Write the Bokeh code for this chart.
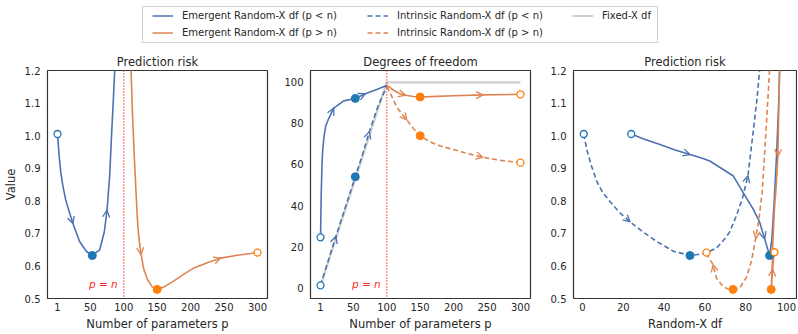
from bokeh.plotting import figure
from bokeh.models import (Range1d, FixedTicker, Span, Label, Arrow, OpenHead,
                          ColumnDataSource, Legend, LegendItem, Spacer)
from bokeh.layouts import column, row
from bokeh.embed import file_html
from bokeh.resources import INLINE

# ---------------- data ----------------
# Panel 1: prediction risk vs number of parameters p
p1_under_p = [1, 2, 4, 6, 9, 13, 17, 24, 34, 44, 53, 64, 71, 75, 79, 82, 84, 86.5, 88]
p1_under_risk = [1.005, 0.975, 0.925, 0.885, 0.846, 0.805, 0.776, 0.730, 0.675, 0.645,
                 0.632, 0.649, 0.705, 0.771, 0.877, 1.010, 1.090, 1.200, 1.270]
p1_over_p = [109, 111, 113, 116, 119, 121, 123, 126, 130, 136, 143, 150, 160, 175, 190,
             205, 225, 245, 270, 300]
p1_over_risk = [1.30, 1.20, 1.07, 0.927, 0.80, 0.725, 0.68, 0.635, 0.59, 0.556, 0.535,
                0.528, 0.535, 0.554, 0.575, 0.594, 0.61, 0.624, 0.633, 0.641]

# Panel 2: degrees of freedom vs p
p2_emer_under_p = [1, 2, 3, 4, 6, 8.5, 13.4, 20.8, 35.7, 53, 68, 85, 100]
p2_emer_under_df = [24.5, 45, 58, 66, 73, 78.5, 82.5, 87.5, 91, 92.2, 94.5, 96.5, 98.5]
p2_intr_under_p = [1, 12, 24, 38, 53, 63, 74, 87, 100]
p2_intr_under_df = [1.1, 12.5, 25, 39, 54, 64, 76, 88.5, 98]
p2_emer_over_p = [100, 105, 110, 115, 120, 128, 140, 150, 175, 200, 244, 300]
p2_emer_over_df = [98.5, 97.5, 96.3, 95.3, 94.5, 93.7, 93.1, 92.9, 93.2, 93.5, 93.9, 94.2]
p2_intr_over_p = [100, 105, 110, 115, 122, 130, 140, 150, 165, 180, 200, 222, 244, 270, 300]
p2_intr_over_df = [98, 95, 91.5, 88, 85, 81.7, 77.5, 74, 71, 69, 67.3, 65.2, 63.5, 62, 60.9]
fixed_p = [1, 100, 300]
fixed_df = [1, 100, 100]

# Panel 3: prediction risk vs Random-X df
p3_emer_under_df = [23.9, 30, 38, 45, 52.7, 58, 62.4, 68, 73.8, 78.7, 83.6, 86.8, 89.3,
                    91.7, 92.8, 94.0, 95.2, 96.3, 97.0]
p3_emer_under_risk = [1.005, 0.99, 0.973, 0.957, 0.942, 0.932, 0.922, 0.90, 0.877, 0.826,
                      0.775, 0.735, 0.683, 0.632, 0.68, 0.80, 0.95, 1.12, 1.3]
p3_intr_under_df = [0.65, 2, 4.5, 7.2, 10, 13.7, 18, 23.4, 30, 36.4, 44.6, 52.7, 60, 65.7,
                    70, 72.2, 75.5, 78.5, 81.1, 83.6, 85.5, 86.8, 87.5]
p3_intr_under_risk = [1.005, 0.96, 0.905, 0.857, 0.825, 0.796, 0.765, 0.735, 0.703, 0.675,
                      0.645, 0.632, 0.638, 0.655, 0.685, 0.705, 0.755, 0.81, 0.877, 1.008,
                      1.11, 1.2, 1.3]
p3_emer_over_df = [96.9, 96.6, 96.2, 95.8, 95.0, 94.1, 93.6, 93.3, 93.0, 92.7, 92.5, 92.9,
                   93.2, 93.6, 94.1]
p3_emer_over_risk = [1.3, 1.2, 1.07, 0.937, 0.85, 0.776, 0.71, 0.665, 0.604, 0.555, 0.528,
                     0.56, 0.59, 0.62, 0.642]
p3_intr_over_df = [92.3, 91.7, 90.1, 88.1, 86.5, 84.9, 82.8, 80.3, 77.1, 73.8, 71, 68.9,
                   65.7, 64, 61.6, 60.8]
p3_intr_over_risk = [1.3, 1.2, 1.03, 0.827, 0.745, 0.685, 0.614, 0.564, 0.533, 0.528, 0.53,
                     0.537, 0.562, 0.604, 0.628, 0.641]

# ticks
p_ticks = [1, 50, 100, 150, 200, 250, 300]
risk_ticks = [0.5, 0.6, 0.7, 0.8, 0.9, 1.0, 1.1, 1.2]
risk_tick_labels = ["0.5", "0.6", "0.7", "0.8", "0.9", "1.0", "1.1", "1.2"]
df_ticks = [0, 20, 40, 60, 80, 100]

legend_labels = ["Emergent Random-X df (p < n)", "Emergent Random-X df (p > n)",
                 "Intrinsic Random-X df (p < n)", "Intrinsic Random-X df (p > n)",
                 "Fixed-X df"]

# ---------------- styles ----------------
BLUE = "#4C72B0"
ORANGE = "#DD8452"
BLUE_DOT = "#1f77b4"
ORANGE_DOT = "#ff7f0e"
GRAY = "#cfcfcf"
RED = "#ff2a2a"
FONT = "'DejaVu Sans'"
TXT = "#262626"
DASH = "5 3"


def make_panel(title, xr, yr, xticks, yticks, xlabel, ylabel, width, left, right):
    p = figure(width=width, height=290, x_range=Range1d(*xr), y_range=Range1d(*yr),
               title=title, output_backend="svg", toolbar_location=None,
               min_border_left=left, min_border_right=right,
               min_border_top=27, min_border_bottom=32)
    p.grid.visible = False
    p.outline_line_color = "#333333"
    p.outline_line_width = 1.2
    p.background_fill_color = "white"
    p.border_fill_color = "white"
    p.title.text_font = FONT
    p.title.text_font_size = "11.5px"
    p.title.text_font_style = "normal"
    p.title.text_color = TXT
    p.title.align = "center"
    p.title.standoff = 3
    p.xaxis.ticker = FixedTicker(ticks=xticks)
    p.yaxis.ticker = FixedTicker(ticks=yticks)
    for ax in (p.xaxis[0], p.yaxis[0]):
        ax.major_tick_line_color = None
        ax.minor_tick_line_color = None
        ax.major_tick_out = 0
        ax.major_tick_in = 0
        ax.minor_tick_out = 0
        ax.minor_tick_in = 0
        ax.axis_line_color = None
        ax.major_label_text_font = FONT
        ax.major_label_text_font_size = "10px"
        ax.major_label_text_color = TXT
        ax.axis_label_text_font = FONT
        ax.axis_label_text_font_size = "11.5px"
        ax.axis_label_text_font_style = "normal"
        ax.axis_label_text_color = TXT
    p.xaxis.major_label_standoff = 4
    p.xaxis.axis_label_standoff = 3
    p.yaxis.major_label_standoff = 7
    p.yaxis.axis_label_standoff = 4
    p.xaxis.axis_label = xlabel
    if ylabel:
        p.yaxis.axis_label = ylabel
    return p


def curve(p, xs, ys, color, dash, arrows):
    p.line(xs, ys, line_color=color, line_width=1.6, line_dash=dash)
    src = ColumnDataSource(dict(
        x0=[xs[i - 1] for i in arrows], y0=[ys[i - 1] for i in arrows],
        x1=[xs[i] for i in arrows], y1=[ys[i] for i in arrows]))
    p.add_layout(Arrow(end=OpenHead(size=7, line_color=color, line_width=1.3),
                       x_start="x0", y_start="y0", x_end="x1", y_end="y1",
                       source=src, line_alpha=0))


def marks(p, xs, ys, open_idx, dot_idx, color):
    p.scatter([xs[dot_idx]], [ys[dot_idx]], size=8, marker="circle",
              fill_color=color, line_color=color)
    p.scatter([xs[open_idx]], [ys[open_idx]], size=7, marker="circle",
              fill_color="white", line_color=color, line_width=1.3)


def pn_marker(p, y):
    p.add_layout(Span(location=100, dimension="height", line_color=RED,
                      line_dash="1 2", line_width=1.6, line_alpha=0.95))
    p.add_layout(Label(x=100, y=y, x_offset=-6, text="p = n", text_align="right",
                       text_baseline="middle", text_color=RED, text_font=FONT,
                       text_font_size="10.5px", text_font_style="italic"))


# ---------------- panel 1 ----------------
p1 = make_panel("Prediction risk", (-14, 315), (0.5, 1.2), p_ticks, risk_ticks,
                "Number of parameters p", "Value", 270, 46, 3)
p1.yaxis.major_label_overrides = dict(zip(risk_ticks, risk_tick_labels))
pn_marker(p1, 0.545)
curve(p1, p1_under_p, p1_under_risk, BLUE, "solid", [7, 13])
curve(p1, p1_over_p, p1_over_risk, ORANGE, "solid", [7, 17])
marks(p1, p1_under_p, p1_under_risk, 0, 10, BLUE_DOT)
marks(p1, p1_over_p, p1_over_risk, len(p1_over_p) - 1, 11, ORANGE_DOT)

# ---------------- panel 2 ----------------
p2 = make_panel("Degrees of freedom", (-14, 315), (-5.3, 105.8), p_ticks, df_ticks,
                "Number of parameters p", None, 263, 40, 3)
pn_marker(p2, 1.9)
p2.line(fixed_p, fixed_df, line_color=GRAY, line_width=2.2)
curve(p2, p2_emer_under_p, p2_emer_under_df, BLUE, "solid", [7, 10])
curve(p2, p2_intr_under_p, p2_intr_under_df, BLUE, DASH, [2, 6])
curve(p2, p2_emer_over_p, p2_emer_over_df, ORANGE, "solid", [5, 10])
curve(p2, p2_intr_over_p, p2_intr_over_df, ORANGE, DASH, [5, 12])
marks(p2, p2_emer_under_p, p2_emer_under_df, 0, 9, BLUE_DOT)
marks(p2, p2_intr_under_p, p2_intr_under_df, 0, 4, BLUE_DOT)
marks(p2, p2_emer_over_p, p2_emer_over_df, len(p2_emer_over_p) - 1, 7, ORANGE_DOT)
marks(p2, p2_intr_over_p, p2_intr_over_df, len(p2_intr_over_p) - 1, 7, ORANGE_DOT)

# ---------------- panel 3 ----------------
p3 = make_panel("Prediction risk", (-4.4, 104.9), (0.5, 1.2), df_ticks, risk_ticks,
                "Random-X df", None, 264, 40, 1)
p3.yaxis.major_label_overrides = dict(zip(risk_ticks, risk_tick_labels))
curve(p3, p3_emer_under_df, p3_emer_under_risk, BLUE, "solid", [4, 12])
curve(p3, p3_intr_under_df, p3_intr_under_risk, BLUE, DASH, [7, 18])
curve(p3, p3_intr_over_df, p3_intr_over_risk, ORANGE, DASH, [5, 13])
curve(p3, p3_emer_over_df, p3_emer_over_risk, ORANGE, "solid", [3, 12])
marks(p3, p3_emer_under_df, p3_emer_under_risk, 0, 13, BLUE_DOT)
marks(p3, p3_intr_under_df, p3_intr_under_risk, 0, 11, BLUE_DOT)
marks(p3, p3_intr_over_df, p3_intr_over_risk, len(p3_intr_over_df) - 1, 9, ORANGE_DOT)
marks(p3, p3_emer_over_df, p3_emer_over_risk, len(p3_emer_over_df) - 1, 10, ORANGE_DOT)

# ---------------- legend strip ----------------
lg = figure(width=517, height=38, x_range=Range1d(0, 1), y_range=Range1d(0, 1),
            x_axis_type=None, y_axis_type=None, output_backend="svg",
            toolbar_location=None, min_border=1)
lg.grid.visible = False
lg.outline_line_color = "#d0d0d0"
lg.outline_line_width = 1
styles = [(BLUE, "solid", 1.5), (ORANGE, "solid", 1.5), (BLUE, DASH, 1.5),
          (ORANGE, DASH, 1.5), (GRAY, "solid", 2)]
rs = [lg.line([0, 1], [5, 5], line_color=c, line_dash=d, line_width=w) for c, d, w in styles]


def make_legend(idx, loc):
    leg = Legend(items=[LegendItem(label=legend_labels[i], renderers=[rs[i]]) for i in idx],
                 location=loc, orientation="vertical", border_line_color=None,
                 background_fill_alpha=0, padding=0, margin=0, spacing=0,
                 glyph_width=21, glyph_height=17, label_height=17, label_standoff=9,
                 label_text_font=FONT, label_text_font_size="10px", label_text_color=TXT)
    lg.add_layout(leg)


make_legend([0, 1], (10, 1))
make_legend([2, 3], (225, 1))
make_legend([4], (430, 18))

layout = column(Spacer(width=10, height=5),
                row(Spacer(width=141, height=38), lg),
                row(p1, p2, p3))

open("out.html", "w").write(file_html(layout, INLINE))
